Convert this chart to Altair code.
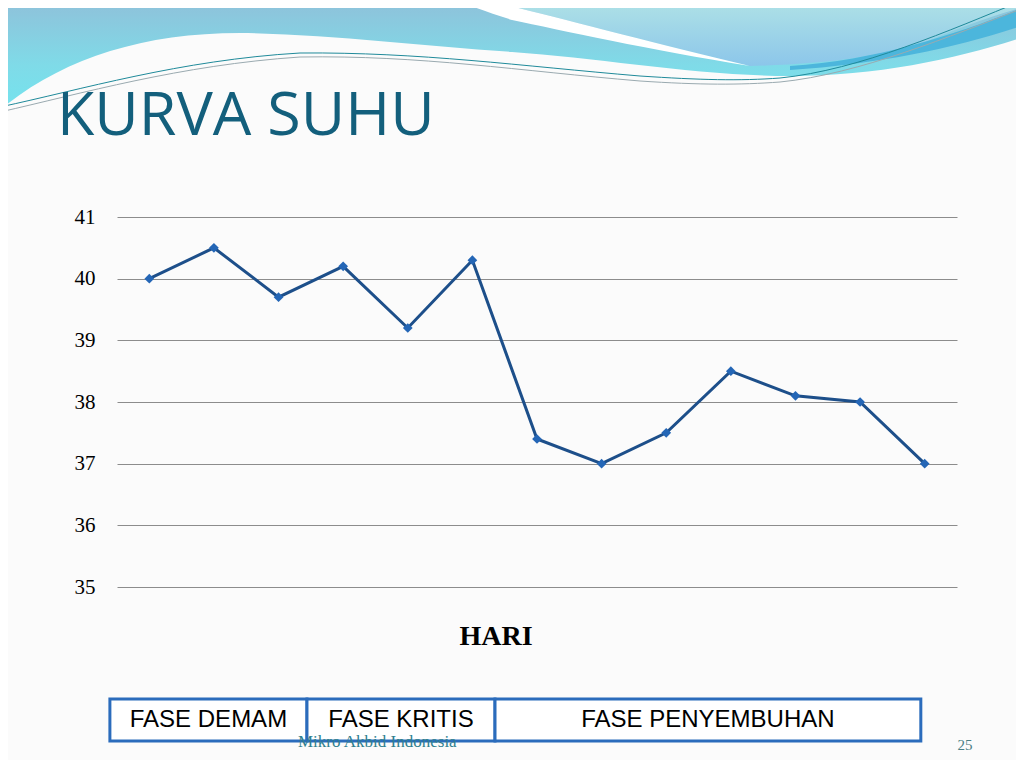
import altair as alt
import pandas as pd

# ---- data ----
hari = list(range(1, 14))
suhu = [40.0, 40.5, 39.7, 40.2, 39.2, 40.3, 37.4, 37.0, 37.5, 38.5, 38.1, 38.0, 37.0]
y_ticks = [35, 36, 37, 38, 39, 40, 41]

phase_labels = ["FASE  DEMAM", "FASE  KRITIS", "FASE  PENYEMBUHAN"]
phase_start = [0.39, 3.44, 6.35]
phase_end = [3.44, 6.35, 12.94]

title_text = "KURVA SUHU"
x_title = "HARI"
footer_text = "Mikro Akbid Indonesia"
page_no = "25"

# ---- decorative header waves (style only, page-pixel paths) ----
WAVE_BASE = ("M0,0 H1024 V37 C960,58 880,76 790,76 C700,76 600,58 512,52 "
             "C420,46 330,34 240,33 C140,33 60,60 0,110 Z")
WAVE_SLIVER = ("M455,0 L485,0 C530,10 640,40 750,66 C650,50 560,30 512,20 "
               "C490,13 468,5 455,0 Z")
WAVE_UPPER = ("M485,0 H1024 V7 C985,18 960,28 930,40 C890,55 830,64 750,66 "
              "C640,40 530,10 485,0 Z")
WAVE_DARK = "M790,66 C880,60 960,33 1024,7 V25 C960,47 880,64 790,70 Z"
LINE_A = ("M0,107 C80,90 180,60 300,53 C420,52 520,66 640,76 C700,80 740,81 780,78 "
          "C860,70 950,30 1024,0")
LINE_B = ("M0,112 C80,94 180,65 300,57 C420,55 520,71 640,81 C700,85 740,85 780,82 "
          "C860,74 950,36 1024,8")

one = pd.DataFrame({"k": [0]})
OX, OY = -117, -217  # page origin relative to plot area


def grad(c0, c1, c2=None):
    stops = [alt.GradientStop(color=c0, offset=0)]
    if c2:
        stops.append(alt.GradientStop(color=c1, offset=0.6))
        stops.append(alt.GradientStop(color=c2, offset=1))
    else:
        stops.append(alt.GradientStop(color=c1, offset=1))
    return alt.LinearGradient(gradient="linear", stops=stops, x1=0, x2=0, y1=0, y2=1)


def deco_fill(path, fill):
    return alt.Chart(one).mark_point(
        shape=path, size=4, filled=True, fill=fill, strokeWidth=0, opacity=1
    ).encode(x=alt.value(OX), y=alt.value(OY))


def deco_line(path, color):
    return alt.Chart(one).mark_point(
        shape=path, size=4, filled=False, stroke=color, strokeWidth=1, opacity=1
    ).encode(x=alt.value(OX), y=alt.value(OY))


decor = [
    deco_fill(WAVE_BASE, grad("#8fc1da", "#7fdbe8", "#74e3ee")),
    deco_fill(WAVE_UPPER, grad("#afe2e6", "#8cc6ea")),
    deco_fill(WAVE_SLIVER, "#ffffff"),
    deco_fill(WAVE_DARK, "#4cb6dc"),
    deco_line(LINE_A, "#1f8a9a"),
    deco_line(LINE_B, "#9aaab0"),
]

df = pd.DataFrame({"hari": hari, "suhu": suhu})
phases = pd.DataFrame({"label": phase_labels, "start": phase_start, "end": phase_end})

main = alt.Chart(df).mark_line(
    color="#1d4f8a", strokeWidth=3,
    point=alt.OverlayMarkDef(shape="diamond", filled=True, size=95, color="#2466b6", opacity=1),
).encode(
    x=alt.X("hari:Q", scale=alt.Scale(domain=[0.5, 13.5], nice=False, zero=False), axis=None),
    y=alt.Y("suhu:Q", scale=alt.Scale(domain=[35, 41], nice=False, zero=False),
            axis=alt.Axis(values=y_ticks, title=None, domain=False, ticks=False, tickSize=0,
                          labelPadding=22, labelFont="Liberation Serif", labelFontSize=21,
                          labelColor="black", gridColor="#8c8c8c", gridWidth=1, format="d")),
)

hari_label = alt.Chart(one).mark_text(
    text=x_title, align="center", baseline="middle", font="Liberation Serif",
    fontSize=28, fontWeight="bold", color="black"
).encode(x=alt.value(379), y=alt.value(420))

boxes = alt.Chart(phases).mark_rect(fill="white", stroke="#2b6cbc", strokeWidth=3).encode(
    x=alt.X("start:Q", axis=None), x2="end:Q", y=alt.value(482), y2=alt.value(524)
)
box_text = alt.Chart(phases).transform_calculate(
    mid="(datum.start + datum.end) / 2"
).mark_text(font="Liberation Sans", fontSize=24, color="black", baseline="middle").encode(
    x=alt.X("mid:Q", axis=None), y=alt.value(503), text="label:N"
)

title = alt.Chart(one).mark_text(
    text=title_text, align="left", baseline="alphabetic", font="Open Sans",
    fontSize=61, color="#135f7c"
).encode(x=alt.value(-60), y=alt.value(-82))

footer = alt.Chart(one).mark_text(
    text=footer_text, align="left", baseline="alphabetic", font="Liberation Serif",
    fontSize=17, color="#2f7f8f"
).encode(x=alt.value(181), y=alt.value(530))

page = alt.Chart(one).mark_text(
    text=page_no, align="center", baseline="alphabetic", font="Liberation Serif",
    fontSize=15, color="#4a7f86"
).encode(x=alt.value(848), y=alt.value(533))

chart = alt.layer(*decor, title, main, hari_label, boxes, box_text, footer, page).properties(
    width=840, height=370,
    padding={"left": 109, "top": 209, "right": 59, "bottom": 173},
    autosize=alt.AutoSizeParams(type="none"),
    background="#fbfbfb",
).configure_view(stroke=None)

chart.save("out.html", embed_options={"renderer": "svg", "actions": False})
